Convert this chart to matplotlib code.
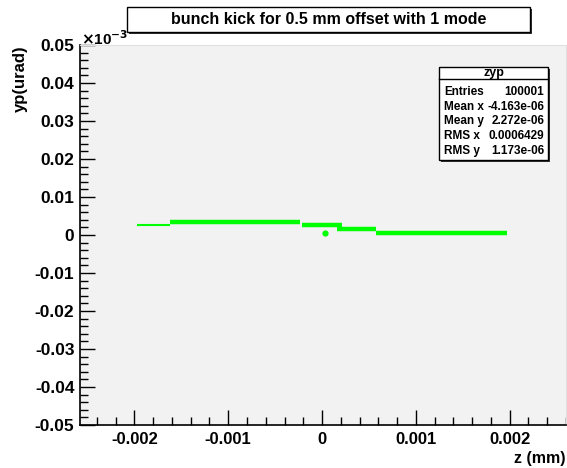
import matplotlib
matplotlib.use("Agg")
import matplotlib.pyplot as plt
from matplotlib.patches import Rectangle
from matplotlib.ticker import MultipleLocator

plt.rcParams['font.family'] = ['Liberation Sans', 'DejaVu Sans']
plt.rcParams['font.weight'] = 'bold'

# Data: step-like band of points (z in mm, yp in urad)
seg_z_start = [-0.00197, -0.00162, -0.00021, 0.00016, 0.00057]
seg_z_end = [-0.00162, -0.00023, 0.00021, 0.00057, 0.00197]
seg_yp = [2.65e-6, 3.5e-6, 2.65e-6, 1.5e-6, 0.6e-6]
seg_width = [1.5, 3.2, 3.2, 3.2, 3.2]
dot_z = [0.00003]
dot_yp = [0.5e-6]

stats_labels = ["Entries", "Mean x", "Mean y", "RMS x", "RMS y"]
stats_values = ["100001", "-4.163e-06", "2.272e-06", "0.0006429", "1.173e-06"]

yticks = [0.05, 0.04, 0.03, 0.02, 0.01, 0, -0.01, -0.02, -0.03, -0.04, -0.05]
ytick_labels = ["0.05", "0.04", "0.03", "0.02", "0.01", "0", "-0.01", "-0.02", "-0.03", "-0.04", "-0.05"]
xticks = [-0.002, -0.001, 0, 0.001, 0.002]
xtick_labels = ["-0.002", "-0.001", "0", "0.001", "0.002"]

scale = 1e-3
W, H = 567, 468
fig = plt.figure(figsize=(W / 100, H / 100), dpi=100)
fig.patch.set_facecolor('white')

L, R, T, B = 80, 566, 45, 425
ax = fig.add_axes([L / W, 1 - B / H, (R - L) / W, (B - T) / H])
ax.set_facecolor('#f2f2f2')
ax.set_xlim(-0.00258, 0.0026)
ax.set_ylim(-0.05, 0.05)

green = '#00ff00'
for zs, ze, y, lw in zip(seg_z_start, seg_z_end, seg_yp, seg_width):
    ax.hlines(y / scale, zs, ze, colors=green, linewidth=lw)
ax.scatter(dot_z, [v / scale for v in dot_yp], s=12, color=green, zorder=3)

ax.set_yticks(yticks)
ax.set_yticklabels(ytick_labels)
ax.set_xticks(xticks)
ax.set_xticklabels(xtick_labels)
ax.xaxis.set_minor_locator(MultipleLocator(0.0002))
ax.yaxis.set_minor_locator(MultipleLocator(0.002))
ax.tick_params(axis='both', which='major', direction='in', length=11, width=1, color='black')
ax.tick_params(axis='both', which='minor', direction='in', length=6, width=1, color='black')
ax.tick_params(axis='x', pad=5, labelsize=12)
ax.tick_params(axis='y', pad=4, labelsize=12.5)
ax.tick_params(top=False, right=False, which='both')
for lab in ax.get_xticklabels() + ax.get_yticklabels():
    lab.set_fontweight('bold')

for s in ['top', 'right']:
    ax.spines[s].set_color('#e0e0e0')
for s in ['left', 'bottom']:
    ax.spines[s].set_color('black')
    ax.spines[s].set_linewidth(1.2)

fig.text(81 / W, 1 - 39 / H, r'$\times$10$^{-3}$', fontsize=11, fontweight='bold', ha='left', va='center')
fig.text(20 / W, 1 - 45 / H, 'yp(urad)', rotation=90, fontsize=12, fontweight='bold', ha='center', va='top')
fig.text(565 / W, 1 - 458 / H, 'z (mm)', fontsize=11.5, fontweight='bold', ha='right', va='center')

# Title box with shadow
tx0, ty0, tx1, ty1 = 127, 7, 530, 32
fig.patches.append(Rectangle(((tx0 + 2) / W, 1 - (ty1 + 2) / H), (tx1 - tx0) / W, (ty1 - ty0) / H,
                             transform=fig.transFigure, facecolor='#333333', edgecolor='none', zorder=5))
fig.patches.append(Rectangle((tx0 / W, 1 - ty1 / H), (tx1 - tx0) / W, (ty1 - ty0) / H,
                             transform=fig.transFigure, facecolor='white', edgecolor='black', linewidth=1, zorder=6))
fig.text((tx0 + tx1) / 2 / W, 1 - (ty0 + ty1) / 2 / H, 'bunch kick for 0.5 mm offset with 1 mode',
         fontsize=11.5, fontweight='bold', ha='center', va='center', zorder=7)

# Stats box
sx0, sy0, sx1, sy1 = 439, 67, 548, 160
fig.patches.append(Rectangle(((sx0 + 2) / W, 1 - (sy1 + 2) / H), (sx1 - sx0) / W, (sy1 - sy0) / H,
                             transform=fig.transFigure, facecolor='#333333', edgecolor='none', zorder=5))
fig.patches.append(Rectangle((sx0 / W, 1 - sy1 / H), (sx1 - sx0) / W, (sy1 - sy0) / H,
                             transform=fig.transFigure, facecolor='white', edgecolor='black', linewidth=1, zorder=6))
hdr = 79
fig.lines.append(plt.Line2D([sx0 / W, sx1 / W], [1 - hdr / H, 1 - hdr / H], transform=fig.transFigure,
                            color='black', linewidth=1, zorder=7))
fig.text((sx0 + sx1) / 2 / W, 1 - 73 / H, 'zyp', fontsize=9, fontweight='bold',
         ha='center', va='center', zorder=7)
row_y = [92, 107, 121, 136, 151]
for yc, lab, val in zip(row_y, stats_labels, stats_values):
    fig.text((sx0 + 5) / W, 1 - yc / H, lab, fontsize=8.5, fontweight='bold', ha='left', va='center', zorder=7)
    fig.text((sx1 - 4) / W, 1 - yc / H, val, fontsize=8.5, fontweight='bold', ha='right', va='center', zorder=7)

fig.savefig('out.png', dpi=100)
